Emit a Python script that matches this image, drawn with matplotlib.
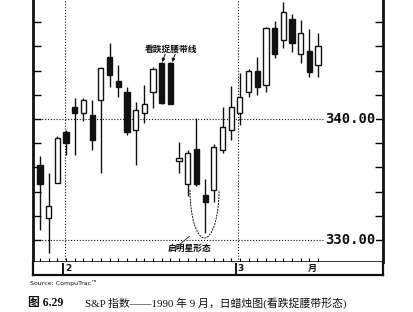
import matplotlib
matplotlib.use("Agg")
import matplotlib.pyplot as plt
from matplotlib.patches import Arc
import numpy as np

plt.rcParams['font.family'] = ['Noto Sans CJK SC', 'DejaVu Sans']

# daily S&P candles
opens = [336.2, 331.8, 334.7, 338.9, 341.0, 340.5, 340.3, 341.6, 345.1, 343.1, 342.2,
         339.1, 340.5, 342.2, 344.6, 344.6, 336.5, 334.6, 337.5, 333.7, 334.1, 337.4,
         339.1, 340.5, 342.2, 344.0, 342.8, 347.5, 346.5, 348.3, 345.4, 345.6, 344.5]
closes = [334.6, 332.8, 338.4, 338.0, 340.5, 341.6, 338.3, 344.2, 343.6, 342.6, 338.9,
          340.7, 341.2, 344.1, 341.3, 341.2, 336.8, 337.2, 334.6, 333.1, 337.7, 339.3,
          341.0, 341.8, 344.0, 342.6, 347.5, 345.4, 348.8, 346.3, 347.1, 343.9, 346.0]
highs = [336.9, 335.5, 338.6, 339.1, 341.7, 341.7, 341.6, 344.3, 346.3, 344.5, 342.6,
         341.4, 342.8, 344.3, 344.7, 344.7, 338.1, 337.4, 340.1, 335.0, 337.9, 341.0,
         342.7, 343.8, 344.1, 345.1, 347.6, 348.1, 349.7, 348.7, 348.2, 347.4, 347.1]
lows = [330.8, 328.9, 334.7, 337.0, 337.0, 339.8, 337.4, 335.5, 342.6, 341.8, 338.7,
        336.2, 339.7, 340.9, 341.2, 341.2, 335.5, 333.6, 334.5, 330.6, 333.1, 337.2,
        338.3, 339.5, 341.8, 342.0, 342.2, 345.0, 345.9, 345.5, 344.6, 343.5, 343.5]

price_labels = [330, 340]
month_labels = ["2", "3"]
axis_label = "月"

ink = "#111111"
dots = (0, (1, 1.6))

fig = plt.figure(figsize=(4.14, 3.12), dpi=100)
ax = fig.add_axes([33 / 414, 50 / 312, 350 / 414, 262 / 312])
strip = fig.add_axes([33 / 414, 37 / 312, 350 / 414, 13 / 312])

xlim = (-0.81, 39.47)
ax.set_xlim(*xlim)
ax.set_ylim(328.18, 349.83)

# candles
x = np.arange(len(opens))
o = np.array(opens)
c = np.array(closes)
ax.vlines(x, lows, highs, color=ink, lw=1.0, zorder=2)
up = c >= o
ax.bar(x[up], (c - o)[up], bottom=o[up], width=0.6, color="white",
       edgecolor=ink, linewidth=1.0, zorder=3)
ax.bar(x[~up], (o - c)[~up], bottom=c[~up], width=0.6, color=ink,
       edgecolor=ink, linewidth=1.0, zorder=3)

# grid lines and price labels
month_breaks = [2.85, 22.8]
for xb in month_breaks:
    ax.axvline(xb, color=ink, lw=0.8, ls=dots, zorder=1)
for lvl in price_labels:
    ax.hlines(lvl, xlim[0], 37.5, color=ink, lw=0.8, linestyles=[dots], zorder=1)
    ax.text(38.6, lvl, f"{lvl:.2f}", ha="right", va="center", fontsize=10,
            family="DejaVu Sans Mono", weight="bold", color=ink,
            bbox=dict(facecolor="white", edgecolor="none", pad=0.3), zorder=4)

ax.set_yticks(np.arange(330, 350, 2))
ax.set_xticks(x)
ax.tick_params(axis="y", direction="in", left=True, right=True, length=6,
               width=1, labelleft=False, labelright=False)
ax.tick_params(axis="x", direction="in", length=3, width=0.8, labelbottom=False)
ax.spines["top"].set_visible(False)
ax.spines["left"].set_linewidth(2)
ax.spines["right"].set_linewidth(2)
ax.spines["bottom"].set_linewidth(1.2)
for s in ax.spines.values():
    s.set_color(ink)

# annotations
ax.text(15.07, 345.79, "看跌捉腰带线", ha="center", va="center", fontsize=6.3,
        weight="bold", color=ink)
for tail, head in [((14.4, 345.35), (14.05, 344.7)), ((15.55, 345.35), (15.2, 344.7))]:
    ax.annotate("", xy=head, xytext=tail,
                arrowprops=dict(arrowstyle="-|>", color=ink, lw=0.7,
                                mutation_scale=5, shrinkA=0, shrinkB=0))

ax.add_patch(Arc((18.93, 334.13), 3.34, 7.93, theta1=180, theta2=360,
                 color=ink, lw=0.7, ls=(0, (2, 1))))
ax.annotate("", xy=(17.2, 330.3), xytext=(16.0, 329.6),
            arrowprops=dict(arrowstyle="-", color=ink, lw=0.6, ls=(0, (1.5, 1)),
                            shrinkA=0, shrinkB=0))
ax.text(17.26, 329.34, "启明星形态", ha="center", va="center", fontsize=6.3,
        weight="bold", color=ink)

# date strip
strip.set_xlim(*xlim)
strip.set_ylim(0, 1)
strip.set_xticks([])
strip.set_yticks([])
strip.spines["top"].set_visible(False)
for s in ["left", "right", "bottom"]:
    strip.spines[s].set_linewidth(1.6)
    strip.spines[s].set_color(ink)
for xb, lab in zip([2.65, 22.55], month_labels):
    strip.vlines(xb, 0.1, 0.95, color=ink, lw=1.4)
    strip.text(xb + 0.2, 0.5, lab, ha="left", va="center", fontsize=6.5,
               family="DejaVu Sans", weight="bold", color=ink)
strip.text(31.3, 0.5, axis_label, ha="center", va="center", fontsize=6.5,
           weight="bold", color=ink)

fig.text(30 / 414, 1 - 283 / 312, "Source: CompuTrac™", fontsize=4.5,
         family="DejaVu Sans", va="center", color=ink)
fig.text(28 / 414, 1 - 303 / 312, "图 6.29", fontsize=8.5, weight="bold",
         family=["Liberation Serif", "Noto Sans CJK SC"], va="center", color=ink)
fig.text(85 / 414, 1 - 303 / 312, "S&P 指数——1990 年 9 月，日蜡烛图(看跌捉腰带形态)",
         fontsize=7.8, family=["Liberation Serif", "Noto Sans CJK SC"],
         va="center", color=ink)

fig.savefig("out.png", dpi=100)
